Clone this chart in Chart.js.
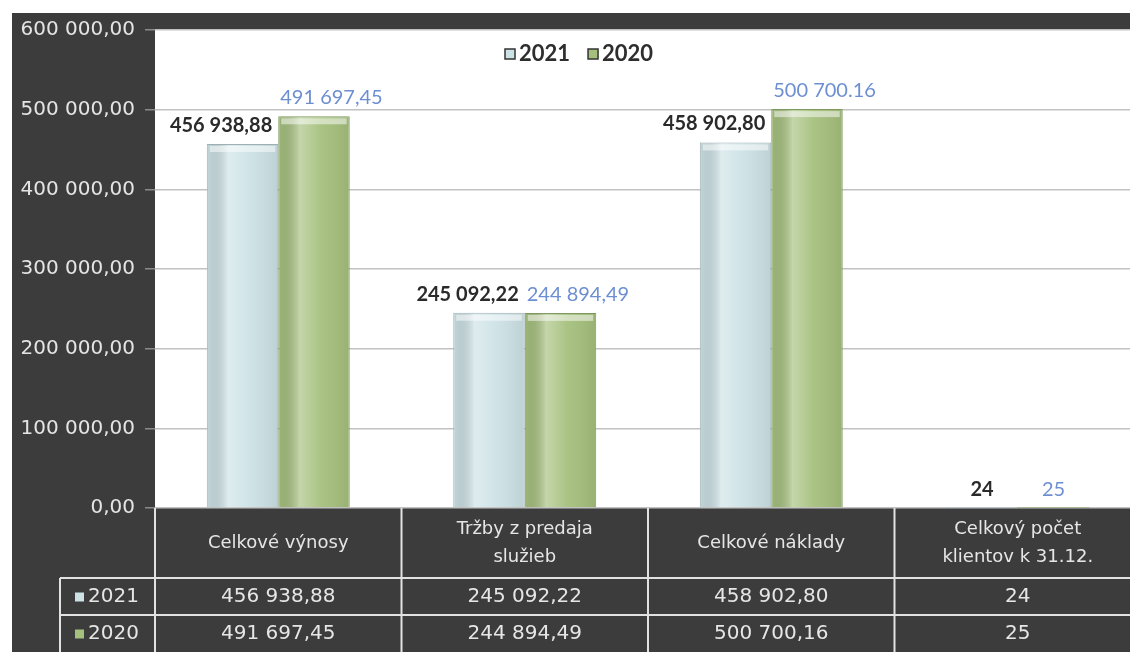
<!DOCTYPE html>
<html>
<head>
<meta charset="utf-8">
<script src="https://cdn.jsdelivr.net/npm/chart.js@4.4.0/dist/chart.umd.min.js"></script>
<style>
  html, body { margin: 0; padding: 0; background: #fff; overflow: hidden; }
  #wrap { width: 1141px; height: 652px; position: relative; }
</style>
</head>
<body>
<div id="wrap"><canvas id="graf"></canvas></div>
<script>
// údaje z grafu
const kategorie = [['Celkové výnosy'], ['Tržby z predaja', 'služieb'], ['Celkové náklady'], ['Celkový počet', 'klientov k 31.12.']];
const roky = ['2021', '2020'];
const hodnoty2021 = [456938.88, 245092.22, 458902.80, 24];
const hodnoty2020 = [491697.45, 244894.49, 500700.16, 25];
const celeCisla = [false, false, false, true];          // počet klientov bez desatinných miest
const oddelovac2020 = [',', ',', '.', ','];             // popis nad stĺpcom 500 700.16 má bodku
const osYMax = 600000;
const osYKrok = 100000;

const farby = ['#cde2e6', '#a5c07d'];
const okraje = ['#9db0b3', '#7e9a5f'];

function cislo(v, desatinne, oddelovac) {
  const [cela, des] = v.toFixed(desatinne).split('.');
  const s = cela.replace(/\B(?=(\d{3})+(?!\d))/g, ' ');
  return des ? s + (oddelovac || ',') + des : s;
}

// tmavé pozadie okolo bielej plochy
const pozadie = {
  id: 'pozadie',
  beforeDraw(chart) {
    const { ctx, chartArea: a, width, height } = chart;
    ctx.save();
    ctx.fillStyle = '#3c3c3c';
    ctx.fillRect(12, 13, width - 12, height - 13);
    ctx.fillStyle = '#ffffff';
    ctx.fillRect(a.left, a.top, a.right - a.left, a.bottom - a.top);
    ctx.restore();
  }
};

// lesk na stĺpcoch + popisy hodnôt
const popisy = {
  id: 'popisy',
  afterDatasetsDraw(chart) {
    const ctx = chart.ctx;
    ctx.save();
    chart.data.datasets.forEach((ds, d) => {
      chart.getDatasetMeta(d).data.forEach((bar, i) => {
        const l = bar.x - bar.width / 2, r = bar.x + bar.width / 2;
        const h = bar.base - bar.y;
        if (h > 4) {
          const g = ctx.createLinearGradient(l, 0, r, 0);
          g.addColorStop(0, 'rgba(0,0,0,0.05)');
          g.addColorStop(0.3, 'rgba(255,255,255,0.35)');
          g.addColorStop(0.6, 'rgba(255,255,255,0.05)');
          g.addColorStop(1, 'rgba(0,0,0,0.08)');
          ctx.fillStyle = g;
          ctx.fillRect(l + 1, bar.y + 1, bar.width - 2, h - 1);
          ctx.fillStyle = 'rgba(255,255,255,0.5)';
          ctx.fillRect(l + 3, bar.y + 2, bar.width - 6, 6);
        }
        const v = ds.data[i];
        const txt = cislo(v, celeCisla[i] ? 0 : 2, d === 1 ? oddelovac2020[i] : ',');
        ctx.font = d === 0 ? 'bold 20px Lato' : '20px Lato';
        ctx.fillStyle = d === 0 ? '#2a2a2a' : '#6d8fd2';
        ctx.textBaseline = 'alphabetic';
        let x;
        if (h < 4) { ctx.textAlign = 'center'; x = bar.x; }
        else if (d === 0) { ctx.textAlign = 'right'; x = r - 6; }
        else { ctx.textAlign = 'left'; x = l + 2; }
        ctx.fillText(txt, x, bar.y - 12);
      });
    });
    ctx.restore();
  }
};

// legenda v ploche grafu
const legenda = {
  id: 'legenda',
  afterDraw(chart) {
    const { ctx, chartArea: a } = chart;
    ctx.save();
    ctx.font = 'bold 22px Lato';
    ctx.textBaseline = 'middle';
    ctx.textAlign = 'left';
    let x = a.left + 350;
    const y = 54;
    chart.data.datasets.forEach((ds, d) => {
      ctx.fillStyle = farby[d];
      ctx.fillRect(x, y - 5, 10, 10);
      ctx.strokeStyle = '#333';
      ctx.lineWidth = 1.5;
      ctx.strokeRect(x, y - 5, 10, 10);
      ctx.fillStyle = '#2e2e2e';
      ctx.fillText(ds.label, x + 14, y);
      x += 14 + ctx.measureText(ds.label).width + 18;
    });
    ctx.restore();
  }
};

// tabuľka údajov pod grafom
const tabulka = {
  id: 'tabulka',
  afterDraw(chart) {
    const { ctx, chartArea: a, width } = chart;
    const os = chart.scales.x;
    const sirka = os.getPixelForValue(1) - os.getPixelForValue(0);
    const hlava = a.bottom, r1 = 578, r2 = 615, spodok = 652, lavo = 60;
    ctx.save();
    ctx.strokeStyle = '#e2e2e2';
    ctx.lineWidth = 2;
    ctx.beginPath();
    ctx.moveTo(lavo, r1); ctx.lineTo(width, r1);
    ctx.moveTo(lavo, r2); ctx.lineTo(width, r2);
    ctx.moveTo(lavo, r1); ctx.lineTo(lavo, spodok);
    kategorie.forEach((k, i) => {
      const xl = os.getPixelForValue(i) - sirka / 2;
      ctx.moveTo(xl, hlava); ctx.lineTo(xl, spodok);
    });
    ctx.stroke();

    ctx.fillStyle = '#e6e6e6';
    ctx.textAlign = 'center';
    ctx.textBaseline = 'middle';
    ctx.font = '18px "DejaVu Sans"';
    kategorie.forEach((k, i) => {
      const xc = os.getPixelForValue(i);
      const stred = (hlava + r1) / 2;
      k.forEach((riadok, j) => {
        ctx.fillText(riadok, xc, stred + (j - (k.length - 1) / 2) * 28);
      });
    });

    const riadky = [hodnoty2021, hodnoty2020];
    const stredy = [(r1 + r2) / 2, (r2 + spodok) / 2];
    ctx.font = '20px "DejaVu Sans"';
    riadky.forEach((hod, d) => {
      ctx.textAlign = 'center';
      ctx.fillStyle = '#e6e6e6';
      hod.forEach((v, i) => {
        ctx.fillText(cislo(v, celeCisla[i] ? 0 : 2, ','), os.getPixelForValue(i), stredy[d]);
      });
      ctx.fillStyle = farby[d];
      ctx.fillRect(75, stredy[d] - 4, 9, 9);
      ctx.fillStyle = '#e6e6e6';
      ctx.textAlign = 'left';
      ctx.fillText(roky[d], 88, stredy[d]);
    });
    ctx.restore();
  }
};

new Chart(document.getElementById('graf'), {
  type: 'bar',
  data: {
    labels: kategorie,
    datasets: [
      { label: roky[0], data: hodnoty2021, backgroundColor: farby[0], borderColor: okraje[0], borderWidth: 1 },
      { label: roky[1], data: hodnoty2020, backgroundColor: farby[1], borderColor: okraje[1], borderWidth: 1 }
    ]
  },
  options: {
    responsive: true,
    maintainAspectRatio: false,
    animation: false,
    layout: { padding: { top: 30, right: 0, left: 0, bottom: 0 } },
    datasets: { bar: { categoryPercentage: 0.58, barPercentage: 1 } },
    plugins: { legend: { display: false }, tooltip: { enabled: false } },
    scales: {
      x: {
        ticks: { display: false },
        grid: { display: false },
        border: { display: false },
        afterFit: s => { s.height = 144; }
      },
      y: {
        min: 0,
        max: osYMax,
        ticks: {
          stepSize: osYKrok,
          color: '#e4e4e4',
          font: { family: 'DejaVu Sans', size: 20 },
          padding: 10,
          callback: v => cislo(v, 2, ',')
        },
        grid: { color: '#c2c2c2', lineWidth: 1.5, tickLength: 10, tickColor: '#8a8a8a' },
        border: { display: false },
        afterFit: s => { s.width = 155; }
      }
    }
  },
  plugins: [pozadie, popisy, legenda, tabulka]
});
</script>
</body>
</html>
